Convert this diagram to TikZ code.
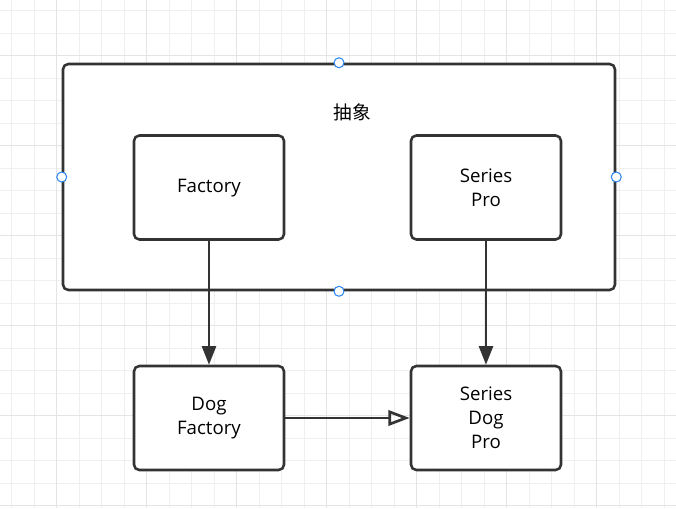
\documentclass[tikz,border=0pt]{standalone}
\usepackage{fontspec}
\setmainfont{Open Sans}
\newfontfamily\cjk{Noto Sans CJK SC}
\usetikzlibrary{arrows.meta,positioning}
\definecolor{gridminor}{HTML}{EFEFEF}
\definecolor{gridmajor}{HTML}{E4E4E4}
\definecolor{linegray}{HTML}{333333}
\definecolor{handleblue}{HTML}{2F88F0}

\begin{document}
\begin{tikzpicture}[x=0.75pt, y=-0.75pt, font=\fontsize{14}{18}\selectfont,
  box/.style={draw=linegray, line width=1.9pt, rounded corners=4pt, fill=white, align=center, minimum width=112.5pt, minimum height=78pt},
  flow/.style={-{Triangle[length=14pt,width=10.5pt]}, draw=linegray, fill=linegray, line width=2pt},
  inherit/.style={-{Triangle[open,length=16pt,width=11.5pt]}, draw=linegray, line width=2pt},
  handle/.style={circle, draw=handleblue, fill=white, line width=0.8pt, minimum size=7.5pt, inner sep=0pt}]
  \useasboundingbox (0,0) rectangle (676,508);
  \fill[white] (0,0) rectangle (676,508);
  \foreach \k in {0,...,29} {
    \draw[gridminor, line width=0.75pt] (11.7+22.5*\k,0) -- ++(0,508);
    \draw[gridminor, line width=0.75pt] (0,10.7+22.5*\k) -- ++(676,0);
  }
  \foreach \k in {0,...,7} {
    \draw[gridmajor, line width=0.75pt] (56.7+90*\k,0) -- ++(0,508);
    \draw[gridmajor, line width=0.75pt] (0,55.7+90*\k) -- ++(676,0);
  }

  \node[box, minimum width=414pt, minimum height=169.5pt] (abstract) at (339,177) {};
  \node (abstractlabel) at (352,112) {\cjk 抽象};
  \node[box] (factory) at (209,187.5) {\strut Factory};
  \node[box] (seriespro) at (486,187.5) {Series\\Pro};
  \node[box] (dogfactory) at (209,418) {Dog\\Factory};
  \node[box] (seriesdogpro) at (486,418) {Series\\Dog\\Pro};

  \draw[flow] (factory) -- (dogfactory);
  \draw[flow] (seriespro) -- (seriesdogpro);
  \draw[inherit] (dogfactory) -- (seriesdogpro);

  \node[handle] (hnorth) at (abstract.north) {};
  \node[handle] (hsouth) at (abstract.south) {};
  \node[handle] (hwest) at (abstract.west) {};
  \node[handle] (heast) at (abstract.east) {};
\end{tikzpicture}
\end{document}
